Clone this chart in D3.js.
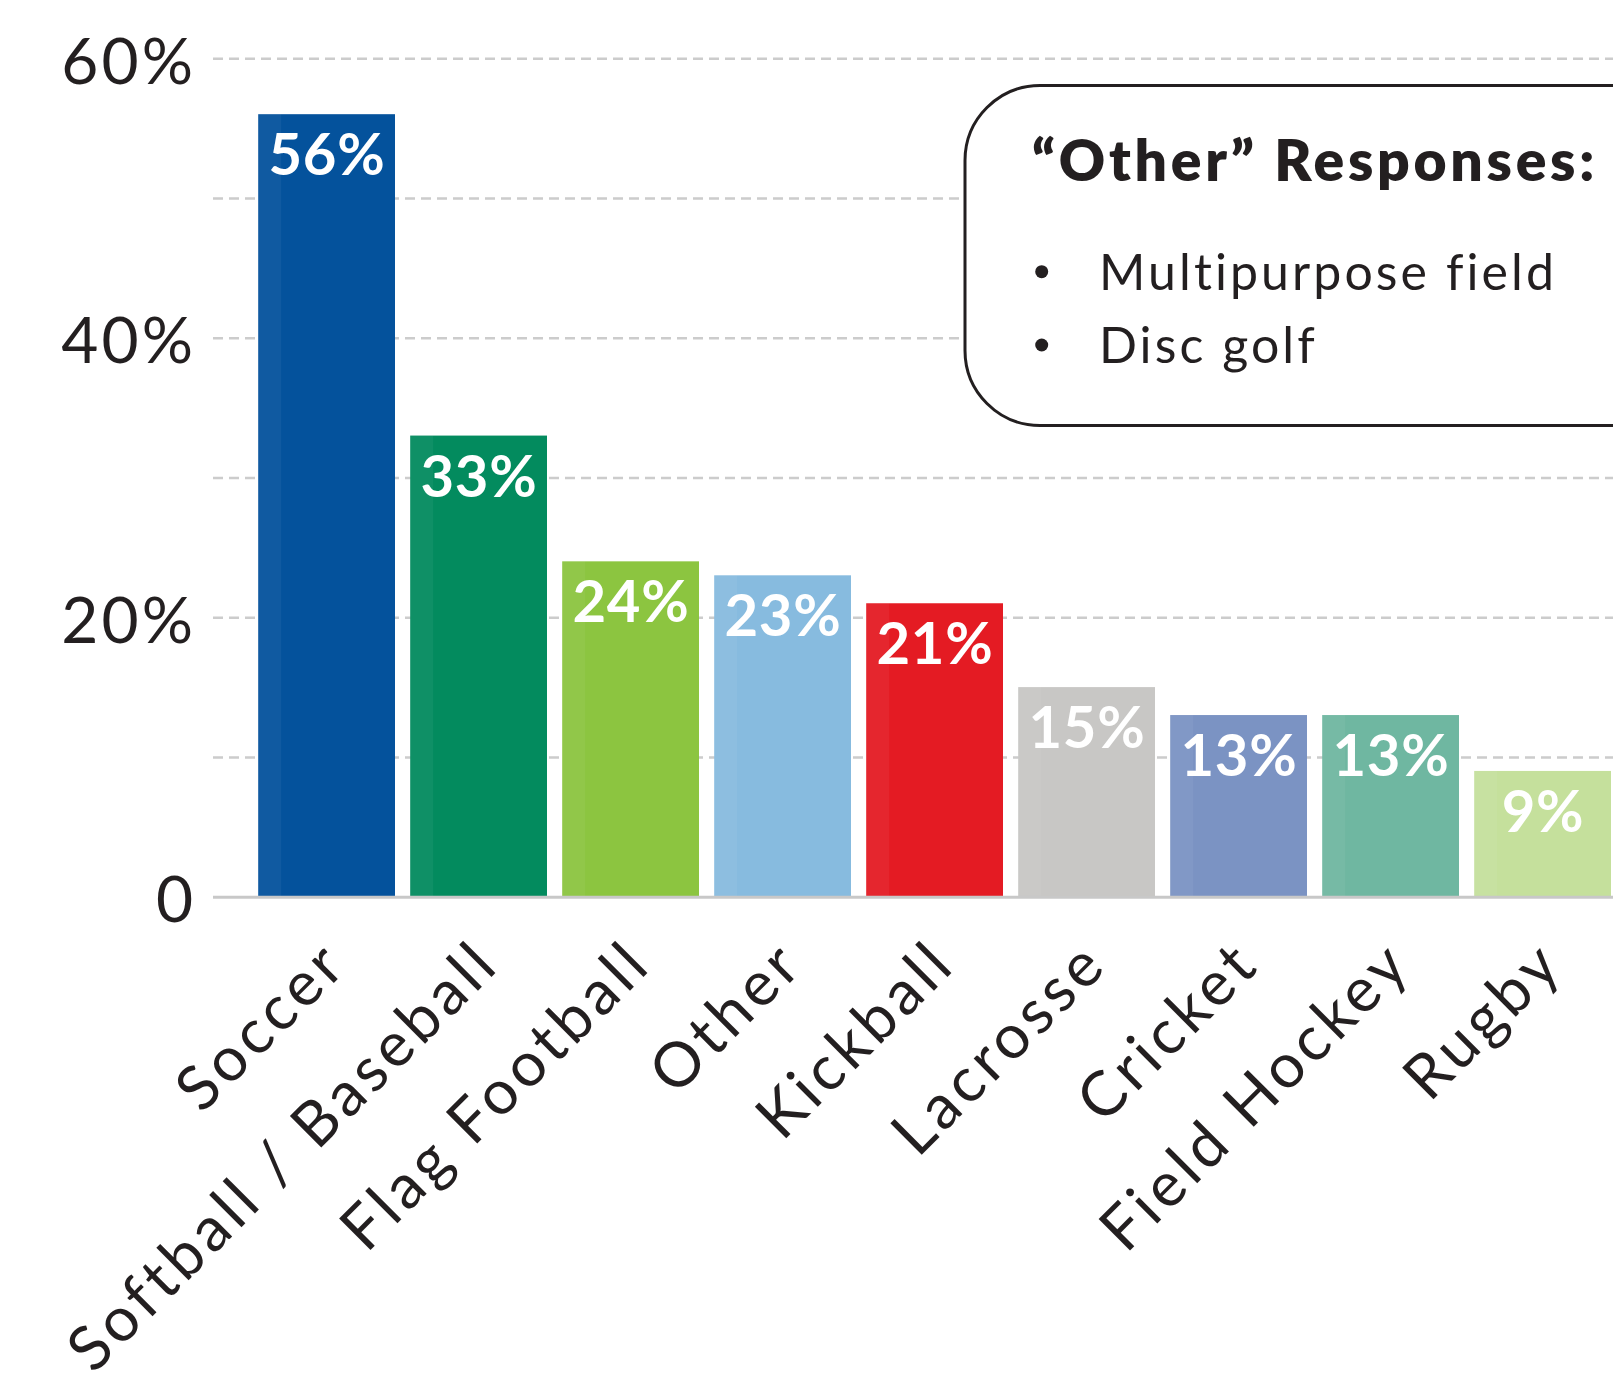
<!DOCTYPE html>
<html>
<head>
<meta charset="utf-8">
<script src="https://cdn.jsdelivr.net/npm/d3@7"></script>
<style>
  html, body { margin: 0; padding: 0; background: #ffffff; }
  svg { display: block; }
  text { font-family: "Lato", "Open Sans", sans-serif; }
</style>
</head>
<body>
<svg id="chart" width="1613" height="1383"></svg>
<script>
// ---- data ----
const categories = ["Soccer", "Softball / Baseball", "Flag Football", "Other", "Kickball", "Lacrosse", "Cricket", "Field Hockey", "Rugby"];
const values = [56, 33, 24, 23, 21, 15, 13, 13, 9];
const barColors = ["#04529c", "#038b5e", "#8cc540", "#87bbdf", "#e41b23", "#c8c7c5", "#7b93c3", "#6fb7a1", "#c5e09c"];
const gridValues = [10, 20, 30, 40, 50, 60];
const tickValues = [0, 20, 40, 60];
const tickLabels = ["0", "20%", "40%", "60%"];
const noteTitle = "\u201COther\u201D Responses:";
const noteItems = ["Multipurpose field", "Disc golf"];

// ---- layout ----
const plotLeft = 213, plotRight = 1613;
const svg = d3.select("#chart");
const ink = "#231f20";

const x = d3.scaleBand().domain(categories).range([258.2, 1611]).paddingInner(0.1).paddingOuter(0);
const y = d3.scaleLinear().domain([0, 60]).range([896.7, 58.3]);

function fitSpacing(sel, target) {
  const node = sel.node();
  sel.attr("letter-spacing", 0);
  const w = node.getComputedTextLength();
  const n = node.textContent.length;
  return (target - w) / n;
}

// gridlines
const grid = svg.append("g").attr("transform", `translate(${plotLeft},0)`)
  .call(d3.axisLeft(y).tickValues(gridValues).tickSize(-(plotRight - plotLeft)).tickFormat(""));
grid.select(".domain").remove();
grid.selectAll(".tick line").attr("stroke", "#cccccc").attr("stroke-width", 2.5).attr("stroke-dasharray", "10 6");

// note box
const box = svg.append("g");
box.append("rect").attr("x", 965).attr("y", 85.5).attr("width", 720).attr("height", 340)
  .attr("rx", 75).attr("ry", 75).attr("fill", "#ffffff").attr("stroke", ink).attr("stroke-width", 3);
const title = box.append("text").attr("x", 1032).attr("y", 181).attr("font-size", 57).attr("font-weight", 800)
  .attr("fill", ink).text(noteTitle);
title.attr("letter-spacing", fitSpacing(title, 566));
let itemLS = 0;
noteItems.forEach((t, i) => {
  const yy = 290 + i * 73.3;
  box.append("circle").attr("cx", 1041.7).attr("cy", yy - 18.3).attr("r", 6.5).attr("fill", ink);
  const tx = box.append("text").attr("x", 1099).attr("y", yy).attr("font-size", 50).attr("font-weight", 400)
    .attr("fill", ink).text(t);
  if (i === 0) itemLS = fitSpacing(tx, 458);
  tx.attr("letter-spacing", itemLS);
});

// y tick labels
const yAxis = svg.append("g").attr("transform", `translate(${plotLeft},0)`)
  .call(d3.axisLeft(y).tickValues(tickValues).tickSize(0).tickPadding(20).tickFormat((d, i) => tickLabels[i]));
yAxis.select(".domain").remove();
const yTexts = yAxis.selectAll(".tick text").attr("font-size", 64).attr("font-weight", 400)
  .attr("fill", ink).attr("font-family", "Lato, 'Open Sans', sans-serif").attr("dy", "0.39em");
const tickLS = fitSpacing(yTexts.filter(d => d === 60), 135);
yTexts.attr("letter-spacing", tickLS).attr("dx", tickLS);

// bars
const bw = x.bandwidth();
const bars = svg.append("g");
bars.selectAll("rect.bar").data(categories).join("rect").attr("class", "bar")
  .attr("x", d => x(d)).attr("y", (d, i) => y(values[i]))
  .attr("width", bw).attr("height", (d, i) => y(0) - y(values[i]))
  .attr("fill", (d, i) => barColors[i]);
bars.selectAll("rect.stripe").data(categories).join("rect").attr("class", "stripe")
  .attr("x", d => x(d)).attr("y", (d, i) => y(values[i]))
  .attr("width", bw * 0.168).attr("height", (d, i) => y(0) - y(values[i]))
  .attr("fill", "#ffffff").attr("opacity", 0.05);

// baseline
svg.append("line").attr("x1", plotLeft).attr("x2", plotRight).attr("y1", y(0) + 0.5).attr("y2", y(0) + 0.5)
  .attr("stroke", "#c8c8c8").attr("stroke-width", 3);

// value labels
const vl = svg.append("g").selectAll("text").data(categories).join("text")
  .attr("x", d => x(d) + bw / 2).attr("y", (d, i) => y(values[i]) + 61)
  .attr("text-anchor", "middle").attr("font-size", 58).attr("font-weight", 700).attr("fill", "#ffffff")
  .text((d, i) => values[i] + "%");
const valLS = fitSpacing(vl.filter((d, i) => i === 1), 117);
vl.attr("letter-spacing", valLS).attr("dx", valLS / 2);

// x labels
const xl = svg.append("g").selectAll("text").data(categories).join("text")
  .attr("transform", d => `translate(${x(d) + bw / 2 + 20},970) rotate(-45)`)
  .attr("text-anchor", "end").attr("font-size", 62).attr("font-weight", 400).attr("fill", ink)
  .text(d => d);
const xLS = fitSpacing(xl.filter(d => d === "Field Hockey"), 407);
xl.attr("letter-spacing", xLS).attr("dx", xLS);
</script>
</body>
</html>
